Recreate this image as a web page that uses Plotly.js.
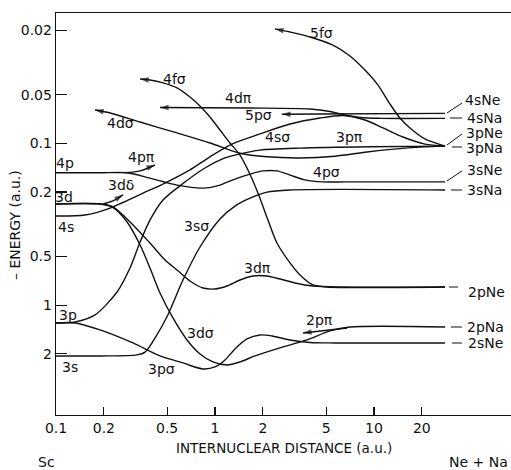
<!DOCTYPE html>
<html><head><meta charset="utf-8">
<script src="https://cdn.plot.ly/plotly-3.0.1.min.js"></script>
<style>html,body{margin:0;padding:0;background:#fff}#chart{width:511px;height:470px}</style>
</head><body><div id="chart"></div>
<script>
// ---- data (R = internuclear distance, a.u.; E = -energy, a.u.) ----
const xTickVals = [0.1, 0.2, 0.5, 1, 2, 5, 10, 20];
const xTickText = ['0.1', '0.2', '0.5', '1', '2', '5', '10', '20'];
const yTickVals = [0.02, 0.05, 0.1, 0.2, 0.5, 1, 2];
const yTickText = ['0.02', '0.05', '0.1', '0.2', '0.5', '1', '2'];

// 4p -> 4p sigma -> 3s Ne
const c4psig_R = [0.1, 0.189, 0.280, 0.390, 0.577, 0.841, 1.075, 1.298, 1.660, 2.004, 2.454, 2.964, 3.682, 4.778, 6.571, 28];
const c4psig_E = [0.152, 0.152, 0.152, 0.164, 0.181, 0.189, 0.181, 0.168, 0.155, 0.148, 0.148, 0.157, 0.168, 0.173, 0.173, 0.173];
// 3s -> 3s sigma -> 3s Na
const c3ssig_R = [0.1, 0.189, 0.323, 0.363, 0.419, 0.499, 0.629, 0.805, 1.075, 1.336, 1.660, 2.123, 2.964, 28];
const c3ssig_E = [2.06, 2.06, 2.03, 1.95, 1.60, 1.18, 0.699, 0.437, 0.293, 0.244, 0.218, 0.200, 0.194, 0.194];
// 3p -> 3p pi -> 3p Na
const c3ppi_R = [0.1, 0.132, 0.176, 0.242, 0.292, 0.338, 0.390, 0.471, 0.602, 0.865, 1.156, 1.436, 1.919, 3.424, 9.44, 28];
const c3ppi_E = [1.288, 1.270, 1.149, 0.829, 0.589, 0.407, 0.298, 0.224, 0.183, 0.142, 0.123, 0.116, 0.110, 0.107, 0.105, 0.104];
// 4s -> 4s sigma -> 3p Ne
const c4ssig_R = [0.1, 0.152, 0.219, 0.353, 0.485, 0.696, 0.930, 1.279, 1.919, 2.964, 4.576, 6.383, 8.777, 11.39, 15.22, 20.93, 28];
const c4ssig_E = [0.281, 0.277, 0.251, 0.203, 0.176, 0.146, 0.121, 0.101, 0.0874, 0.0759, 0.0697, 0.0672, 0.0717, 0.0803, 0.0913, 0.101, 0.104];
// 4d sigma
const c4dsig_R = [0.176, 0.219, 0.338, 0.577, 0.930, 1.436, 2.123, 3.424, 5.683, 9.036, 15.67, 28];
const c4dsig_E = [0.0622, 0.0649, 0.0738, 0.0862, 0.0994, 0.115, 0.121, 0.123, 0.120, 0.113, 0.107, 0.104];
// 4f sigma
const c4fsig_R = [0.338, 0.390, 0.471, 0.577, 0.696, 0.805, 0.930, 1.075, 1.242, 1.436, 1.660, 1.919, 2.154, 2.454, 2.964, 3.424, 4.135, 5.063, 28];
const c4fsig_E = [0.0400, 0.0406, 0.0423, 0.0454, 0.0517, 0.0587, 0.0687, 0.0826, 0.0994, 0.118, 0.155, 0.218, 0.298, 0.413, 0.548, 0.651, 0.750, 0.772, 0.772];
// 5f sigma
const c5fsig_R = [2.384, 2.964, 3.959, 5.522, 7.067, 8.777, 10.60, 12.61, 14.57, 16.84, 20.93, 28];
const c5fsig_E = [0.0196, 0.0205, 0.0220, 0.0247, 0.0288, 0.0352, 0.0436, 0.0571, 0.0697, 0.0803, 0.0939, 0.104];
// 4d pi
const c4dpi_R = [0.451, 1.660, 3.959, 5.288, 6.571, 8.166, 10.91, 28];
const c4dpi_E = [0.0600, 0.0604, 0.0613, 0.0635, 0.0668, 0.0692, 0.0700, 0.0700];
// 5p sigma
const c5psig_R = [2.639, 4.576, 28];
const c5psig_E = [0.0661, 0.0658, 0.0652];
// 3d -> 3d pi -> 2p Ne
const c3dpi_R = [0.1, 0.189, 0.228, 0.305, 0.390, 0.485, 0.577, 0.696, 0.841, 1.000, 1.190, 1.436, 1.734, 2.123, 2.563, 3.185, 4.135, 6.112, 28];
const c3dpi_E = [0.237, 0.237, 0.247, 0.319, 0.413, 0.526, 0.606, 0.709, 0.783, 0.794, 0.761, 0.699, 0.660, 0.660, 0.689, 0.729, 0.761, 0.772, 0.772];
// 3d -> 3d sigma -> 2p Na
const c3dsig_R = [0.1, 0.189, 0.225, 0.280, 0.338, 0.390, 0.451, 0.544, 0.667, 0.805, 0.971, 1.190, 1.436, 1.785, 2.563, 3.790, 5.288, 7.067, 28];
const c3dsig_E = [0.237, 0.237, 0.247, 0.306, 0.425, 0.589, 0.841, 1.200, 1.641, 2.002, 2.244, 2.342, 2.244, 2.060, 1.838, 1.641, 1.443, 1.364, 1.364];
// 3p -> 3p sigma -> 2s Ne
const c3psig_R = [0.1, 0.132, 0.189, 0.305, 0.451, 0.629, 0.841, 1.000, 1.156, 1.336, 1.590, 1.919, 2.283, 2.964, 3.959, 5.683, 28];
const c3psig_E = [1.288, 1.288, 1.423, 1.713, 2.060, 2.276, 2.479, 2.409, 2.181, 1.865, 1.618, 1.528, 1.550, 1.641, 1.700, 1.713, 1.713];
// short label arrows
const a4ppi_R = [0.272, 0.338, 0.419];
const a4ppi_E = [0.152, 0.148, 0.136];
const a3ddel_R = [0.198, 0.228, 0.264];
const a3ddel_E = [0.237, 0.227, 0.208];
const a2ppi_R = [6.764, 3.577];
const a2ppi_E = [1.383, 1.485];

// ---- drawing ----
const INK = '#111';
function curve(R, E) {
  return {x: R, y: E, type: 'scatter', mode: 'lines', hoverinfo: 'skip',
          line: {color: INK, width: 1.4, shape: 'spline', smoothing: 0.8}};
}
function head(R, E, atStart) {
  const n = R.length;
  const idx = atStart ? [1, 0] : [n - 2, n - 1];
  return {x: idx.map(i => R[i]), y: idx.map(i => E[i]), type: 'scatter', mode: 'markers', hoverinfo: 'skip',
          marker: {symbol: 'arrow', angleref: 'previous', size: [0, 9], color: INK, line: {width: 0}}};
}
const traces = [
  curve(c4psig_R, c4psig_E), curve(c3ssig_R, c3ssig_E), curve(c3ppi_R, c3ppi_E),
  curve(c4ssig_R, c4ssig_E), curve(c4dsig_R, c4dsig_E), curve(c4fsig_R, c4fsig_E),
  curve(c5fsig_R, c5fsig_E), curve(c4dpi_R, c4dpi_E), curve(c5psig_R, c5psig_E),
  curve(c3dpi_R, c3dpi_E), curve(c3dsig_R, c3dsig_E), curve(c3psig_R, c3psig_E),
  curve(a4ppi_R, a4ppi_E), curve(a3ddel_R, a3ddel_E), curve(a2ppi_R, a2ppi_E),
  head(c4dsig_R, c4dsig_E, true), head(c4fsig_R, c4fsig_E, true), head(c5fsig_R, c5fsig_E, true),
  head(c4dpi_R, c4dpi_E, true), head(c5psig_R, c5psig_E, true),
  head(a4ppi_R, a4ppi_E, false), head(a3ddel_R, a3ddel_E, false), head(a2ppi_R, a2ppi_E, false)
];

const F = 'DejaVu Sans, Arial, sans-serif';
function lab(text, x, y, size) {
  return {text: text, x: x, y: y, xref: 'paper', yref: 'paper', showarrow: false,
          xanchor: 'center', yanchor: 'middle', font: {family: F, size: size || 14, color: INK}};
}
const annotations = [
  lab('5fσ', 0.5846, 0.9502), lab('4fσ', 0.2615, 0.8358), lab('4dπ', 0.4000, 0.7886),
  lab('5pσ', 0.4440, 0.7463), lab('4dσ', 0.1407, 0.7264), lab('4sσ', 0.4879, 0.6915),
  lab('3pπ', 0.6440, 0.6915), lab('4pπ', 0.1890, 0.6420), lab('4pσ', 0.5956, 0.6045),
  lab('3dδ', 0.1430, 0.5720), lab('3sσ', 0.3077, 0.4701), lab('3dπ', 0.4418, 0.3657),
  lab('3dσ', 0.3165, 0.2040), lab('3pσ', 0.2308, 0.1144), lab('2pπ', 0.5802, 0.2363),
  lab('4p', 0.0198, 0.6269), lab('3d', 0.0176, 0.5423), lab('4s', 0.0220, 0.4677),
  lab('3p', 0.0264, 0.2488), lab('3s', 0.0308, 0.1194),
  lab('4sNe', 0.9363, 0.7836), lab('4sNa', 0.9407, 0.7388), lab('3pNe', 0.9407, 0.7015),
  lab('3pNa', 0.9407, 0.6642), lab('3sNe', 0.9407, 0.6095), lab('3sNa', 0.9407, 0.5597),
  lab('2pNe', 0.9451, 0.3060), lab('2pNa', 0.9429, 0.2189), lab('2sNe', 0.9429, 0.1791),
  lab('Sc', -0.0198, -0.1169), lab('Ne + Na', 0.9275, -0.1169),
  lab('INTERNUCLEAR DISTANCE (a.u.)', 0.501, -0.0821, 13.5),
  Object.assign(lab('– ENERGY (a.u.)', -0.0901, 0.4726, 14), {textangle: -90})
];
function lead(x0, y0, x1, y1) {
  return {type: 'line', xref: 'paper', yref: 'paper', x0: x0, y0: y0, x1: x1, y1: y1,
          line: {color: INK, width: 1}};
}
const shapes = [
  lead(0.8593, 0.7512, 0.8923, 0.7761), lead(0.8659, 0.7388, 0.8923, 0.7388),
  lead(0.8593, 0.6716, 0.8923, 0.6990), lead(0.8703, 0.6667, 0.8923, 0.6667),
  lead(0.8593, 0.5821, 0.8923, 0.6070), lead(0.8681, 0.5597, 0.8923, 0.5597),
  lead(0.8637, 0.3184, 0.8835, 0.3184), lead(0.8681, 0.2189, 0.8923, 0.2189),
  lead(0.8703, 0.1791, 0.8923, 0.1791)
];

const layout = {
  width: 511, height: 470,
  margin: {l: 56, r: 0, t: 13, b: 55},
  paper_bgcolor: '#fff', plot_bgcolor: '#fff',
  showlegend: false,
  font: {family: F, color: INK, size: 14},
  xaxis: {type: 'log', range: [-1, 1.862], tickvals: xTickVals, ticktext: xTickText,
          ticks: 'inside', ticklen: 8, tickwidth: 1.2, tickcolor: INK,
          showline: true, linecolor: INK, linewidth: 1.3, mirror: true,
          showgrid: false, zeroline: false, tickfont: {family: F, size: 14, color: INK}},
  yaxis: {type: 'log', range: [0.679, -1.806], tickvals: yTickVals, ticktext: yTickText,
          ticks: 'inside', ticklen: 11, tickwidth: 1.2, tickcolor: INK,
          showline: true, linecolor: INK, linewidth: 1.3,
          showgrid: false, zeroline: false, tickfont: {family: F, size: 14, color: INK}},
  annotations: annotations,
  shapes: shapes
};
Plotly.newPlot('chart', traces, layout, {staticPlot: true, displayModeBar: false});
</script>
</body></html>
